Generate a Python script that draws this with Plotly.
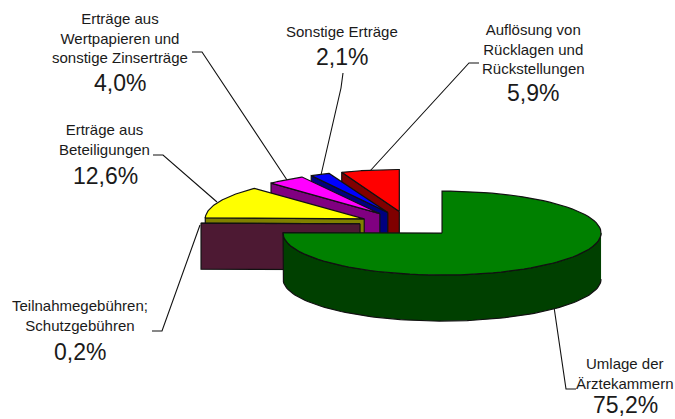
import numpy as np
import plotly.graph_objects as go

# --- data -------------------------------------------------------------
categories = ["Umlage der Ärztekammern", "Auflösung von Rücklagen und Rückstellungen",
              "Sonstige Erträge", "Erträge aus Wertpapieren und sonstige Zinserträge",
              "Erträge aus Beteiligungen", "Teilnahmegebühren; Schutzgebühren"]
shares = [75.2, 5.9, 2.1, 4.0, 12.6, 0.2]
pct_labels = ["75,2%", "5,9%", "2,1%", "4,0%", "12,6%", "0,2%"]
top_colors = ["#008000", "#FF0000", "#0000FF", "#FF00FF", "#FFFF00", "#993366"]
side_colors = ["#004000", "#800000", "#000080", "#800080", "#808000", "#4D1933"]

# --- pie projection ---------------------------------------------------
CX, CY, RX, RY, DEPTH, EXPLODE = 408.2, 224.0, 159.0, 42.0, 46.0, 0.303


def pt(ax, ay, theta):
    return ax + RX * np.sin(theta), ay - RY * np.cos(theta)


def poly(fig, xs, ys, color):
    fig.add_trace(go.Scatter(x=list(xs), y=list(ys), mode="lines", fill="toself",
                             fillcolor=color, line=dict(color="#111111", width=1.2),
                             hoverinfo="skip", showlegend=False))


fig = go.Figure()

# angular ranges: the first slice runs clockwise from 12 o'clock,
# the remaining ones run counter-clockwise from 12 o'clock
ranges = [(0.0, shares[0] * 2 * np.pi / 100)]
end = 0.0
for s in shares[1:]:
    start = end
    end = start - s * 2 * np.pi / 100
    ranges.append((start, end))

order = [1, 2, 3, 4, 5, 0]
for i in order:
    a, b = ranges[i]
    mid = (a + b) / 2
    ax = CX + EXPLODE * RX * np.sin(mid)
    ay = CY - EXPLODE * RY * np.cos(mid)
    th = np.linspace(a, b, 90)
    tx, ty = pt(ax, ay, th)
    if i == 0:
        # outer rim, front half only
        rim = np.linspace(np.pi / 2, min(b, 3 * np.pi / 2), 90)
        rx, ry = pt(ax, ay, rim)
        poly(fig, np.r_[rx, rx[::-1]], np.r_[ry, ry[::-1] + DEPTH], side_colors[i])
    else:
        # radial cut face on the counter-clockwise side
        ex, ey = pt(ax, ay, b)
        poly(fig, [ax, ex, ex, ax, ax], [ay, ey, ey + DEPTH, ay + DEPTH, ay], side_colors[i])
    poly(fig, np.r_[ax, tx, ax], np.r_[ay, ty, ay], top_colors[i])

# --- labels -----------------------------------------------------------
LABEL_SIZE, PCT_SIZE = 15, 23
blocks = [
    (0, "Umlage der<br>Ärztekammern", 624.5, 373.5, 625, 404.5),
    (1, "Auflösung von<br>Rücklagen und<br>Rückstellungen", 533, 48.5, 533, 93),
    (2, "Sonstige Erträge", 342, 31, 342, 57),
    (3, "Erträge aus<br>Wertpapieren und<br>sonstige Zinserträge", 120, 37.5, 120, 83),
    (4, "Erträge aus<br>Beteiligungen", 104.5, 139.5, 105, 175.5),
    (5, "Teilnahmegebühren;<br>Schutzgebühren", 80, 315.5, 80, 352),
]
for i, txt, lx, ly, px, py in blocks:
    fig.add_annotation(x=lx, y=ly, text=txt, showarrow=False, align="center",
                       xanchor="center", yanchor="middle",
                       font=dict(family="Liberation Sans", size=LABEL_SIZE, color="#1a1a1a"))
    fig.add_annotation(x=px, y=py, text=pct_labels[i], showarrow=False,
                       xanchor="center", yanchor="middle",
                       font=dict(family="Liberation Sans", size=PCT_SIZE, color="#1a1a1a"))

leaders = [
    "M576,389 L566,389 L554,307",
    "M479,63 L469,63 L370,171",
    "M343,73 L341,88 L321,175",
    "M192,52 L202,52 L287,180",
    "M153,155 L163,155 L217,202",
    "M152,331 L162,331 L200,225",
]
shapes = [dict(type="path", path=p, xref="x", yref="y", layer="below",
               line=dict(color="#111111", width=1.1)) for p in leaders]

fig.update_layout(
    width=675, height=419, margin=dict(l=0, r=0, t=0, b=0), autosize=False,
    paper_bgcolor="white", plot_bgcolor="white", showlegend=False, hovermode=False,
    shapes=shapes,
    xaxis=dict(range=[0, 675], visible=False, fixedrange=True),
    yaxis=dict(range=[419, 0], visible=False, fixedrange=True),
)
fig.write_html("out.html", config=dict(displayModeBar=False),
               post_script="document.body.style.margin='0';")
